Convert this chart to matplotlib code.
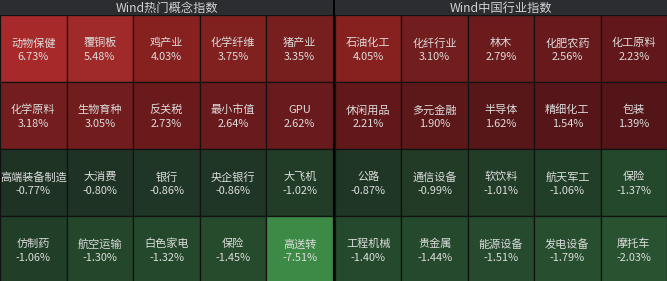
import matplotlib
matplotlib.use("Agg")
import matplotlib.pyplot as plt
import numpy as np

plt.rcParams['font.family'] = ['Noto Sans CJK SC', 'DejaVu Sans']

# data
left_title = "Wind热门概念指数"
left_names = ["动物保健", "覆铜板", "鸡产业", "化学纤维", "猪产业",
              "化学原料", "生物育种", "反关税", "最小市值", "GPU",
              "高端装备制造", "大消费", "银行", "央企银行", "大飞机",
              "仿制药", "航空运输", "白色家电", "保险", "高送转"]
left_values = [6.73, 5.48, 4.03, 3.75, 3.35,
               3.18, 3.05, 2.73, 2.64, 2.62,
               -0.77, -0.80, -0.86, -0.86, -1.02,
               -1.06, -1.30, -1.32, -1.45, -7.51]

right_title = "Wind中国行业指数"
right_names = ["石油化工", "化纤行业", "林木", "化肥农药", "化工原料",
               "休闲用品", "多元金融", "半导体", "精细化工", "包装",
               "公路", "通信设备", "软饮料", "航天军工", "保险",
               "工程机械", "贵金属", "能源设备", "发电设备", "摩托车"]
right_values = [4.05, 3.10, 2.79, 2.56, 2.23,
                2.21, 1.90, 1.62, 1.54, 1.39,
                -0.87, -0.99, -1.01, -1.06, -1.37,
                -1.40, -1.44, -1.51, -1.79, -2.03]

ncols = 5


def cell_color(v):
    if v >= 0:
        xs = [1.3, 2.6, 3.4, 4.05, 5.5, 7.0]
        r = np.interp(v, xs, [0.32, 0.41, 0.47, 0.53, 0.63, 0.66])
        g = np.interp(v, xs, [0.08, 0.10, 0.12, 0.13, 0.16, 0.16])
        b = np.interp(v, xs, [0.09, 0.11, 0.12, 0.12, 0.16, 0.16])
    else:
        a = -v
        xs = [0.8, 1.3, 2.0, 7.5]
        r = np.interp(a, xs, [0.12, 0.14, 0.16, 0.24])
        g = np.interp(a, xs, [0.20, 0.28, 0.32, 0.54])
        b = np.interp(a, xs, [0.14, 0.17, 0.19, 0.28])
    return (r, g, b)


W, H = 667, 281
fig = plt.figure(figsize=(W / 100, H / 100), dpi=100, facecolor='black')

head_h = 15
grid_top = 15
grid_h = 268


def panel(x0, x1, title, names, values):
    # header
    hax = fig.add_axes([x0 / W, 1 - head_h / H, (x1 - x0) / W, head_h / H])
    hax.set_facecolor('#2b2d30')
    hax.set_xticks([])
    hax.set_yticks([])
    for s in hax.spines.values():
        s.set_visible(False)
    hax.text(0.5, 0.45, title, ha='center', va='center', color='#d2d2d2',
             fontsize=8.8, transform=hax.transAxes)

    ax = fig.add_axes([x0 / W, 1 - (grid_top + grid_h) / H,
                       (x1 - x0) / W, grid_h / H])
    nrows = len(values) // ncols
    cols = np.arange(len(values)) % ncols
    rows = np.arange(len(values)) // ncols
    colors = [cell_color(v) for v in values]
    ax.bar(cols, np.ones(len(values)), width=1, bottom=rows, align='edge',
           color=colors, edgecolor='#121212', linewidth=0.9)
    for c, r, n, v in zip(cols, rows, names, values):
        ax.text(c + 0.5, r + 0.42, n, ha='center', va='center',
                color='#dcdcdc', fontsize=8)
        ax.text(c + 0.5, r + 0.63, f"{v:.2f}%", ha='center', va='center',
                color='#dcdcdc', fontsize=7.9)
    ax.set_xlim(0, ncols)
    ax.set_ylim(nrows, 0)
    ax.axis('off')


panel(0, 333, left_title, left_names, left_values)
panel(335, 667, right_title, right_names, right_values)

fig.savefig("out.png", dpi=100, facecolor='black')
